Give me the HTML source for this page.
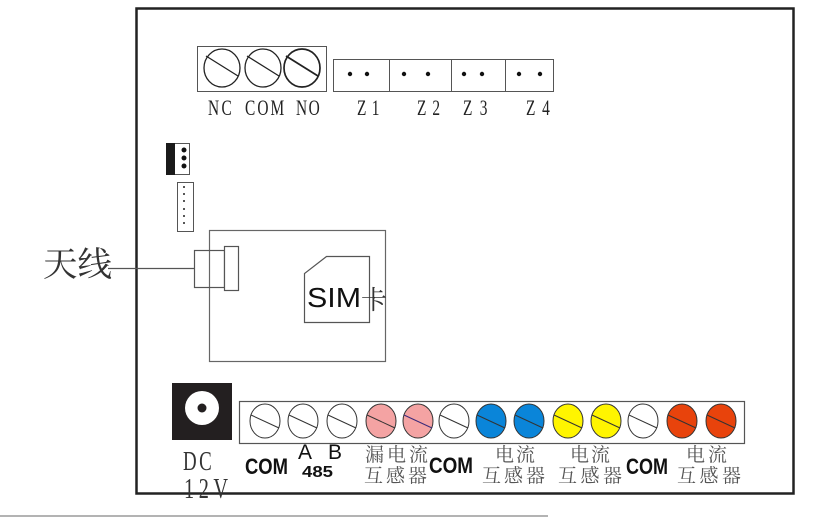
<!DOCTYPE html>
<html><head><meta charset="utf-8"><style>
html,body{margin:0;padding:0;background:#fff;}
svg{display:block;}
.serif{font-family:"Liberation Serif",serif;}
.sans{font-family:"Liberation Sans",sans-serif;}
.cjk{font-family:"Liberation Serif","Noto Serif CJK SC",serif;}
</style></head><body>
<svg width="819" height="518" viewBox="0 0 819 518" xmlns="http://www.w3.org/2000/svg">
<rect x="0" y="0" width="819" height="518" fill="#fff"/>
<!-- main box -->
<rect x="136.5" y="8.5" width="657" height="485" fill="none" stroke="#222" stroke-width="2.5"/>
<!-- bottom grey line -->
<line x1="0" y1="516" x2="548" y2="516" stroke="#9a9a9a" stroke-width="1.5"/>

<!-- relay terminal -->
<rect x="197.5" y="46.5" width="129" height="45" fill="#fff" stroke="#555" stroke-width="1"/>
<g fill="none" stroke="#222" stroke-width="1.3">
<ellipse cx="222" cy="68" rx="18" ry="19"/>
<line x1="206" y1="56" x2="238" y2="76"/>
<ellipse cx="263" cy="68" rx="18" ry="19"/>
<line x1="247" y1="56" x2="279" y2="76"/>
<ellipse cx="302" cy="68" rx="18" ry="19" stroke-width="1.7"/>
<line x1="286" y1="56" x2="318" y2="76" stroke-width="1.8"/>
</g>
<!-- Z terminals -->
<rect x="333.5" y="59.5" width="220" height="32" fill="#fff" stroke="#555" stroke-width="1"/>
<g stroke="#555" stroke-width="1">
<line x1="389.5" y1="59" x2="389.5" y2="92"/>
<line x1="451.5" y1="59" x2="451.5" y2="92"/>
<line x1="505.5" y1="59" x2="505.5" y2="92"/>
</g>
<g fill="#111">
<circle cx="350" cy="74" r="2.2"/><circle cx="367" cy="74" r="2.2"/>
<circle cx="404" cy="74" r="2.2"/><circle cx="428" cy="74" r="2.2"/>
<circle cx="464" cy="74" r="2.2"/><circle cx="482" cy="74" r="2.2"/>
<circle cx="519" cy="74" r="2.2"/><circle cx="540" cy="74" r="2.2"/>
</g>
<g class="serif" font-size="22" fill="#222">
<g transform="translate(208,115) scale(0.7,1)"><text x="0" y="0" textLength="34" lengthAdjust="spacing">NC</text></g>
<g transform="translate(245,115) scale(0.7,1)"><text x="0" y="0" textLength="56" lengthAdjust="spacing">COM</text></g>
<g transform="translate(296,115) scale(0.7,1)"><text x="0" y="0" textLength="34" lengthAdjust="spacing">NO</text></g>
<g transform="translate(357,115) scale(0.7,1)"><text x="0" y="0" textLength="32" lengthAdjust="spacing">Z1</text></g>
<g transform="translate(417,115) scale(0.7,1)"><text x="0" y="0" textLength="33" lengthAdjust="spacing">Z2</text></g>
<g transform="translate(463,115) scale(0.7,1)"><text x="0" y="0" textLength="35" lengthAdjust="spacing">Z3</text></g>
<g transform="translate(526,115) scale(0.7,1)"><text x="0" y="0" textLength="34" lengthAdjust="spacing">Z4</text></g>
</g>

<!-- connector 1 -->
<rect x="166.5" y="143.5" width="23" height="31" fill="#fff" stroke="#555" stroke-width="1"/>
<rect x="166" y="143" width="9" height="32" fill="#1a1a1a"/>
<g fill="#111"><circle cx="184" cy="150" r="2.5"/><circle cx="184" cy="158" r="2.5"/><circle cx="184" cy="166" r="2.5"/></g>
<!-- connector 2 -->
<rect x="177.5" y="182.5" width="16" height="49" fill="#fff" stroke="#555" stroke-width="1"/>
<g fill="#222"><circle cx="184" cy="187" r="1"/><circle cx="184" cy="194" r="1"/><circle cx="184" cy="201" r="1"/><circle cx="184" cy="209" r="1"/><circle cx="184" cy="216" r="1"/><circle cx="184" cy="223" r="1"/></g>

<!-- module -->
<rect x="209.5" y="230.5" width="176" height="131" fill="none" stroke="#666" stroke-width="1.2"/>
<rect x="194.5" y="250.5" width="30" height="37" fill="none" stroke="#555" stroke-width="1.2"/>
<rect x="224.5" y="246.5" width="14" height="44" fill="#fff" stroke="#555" stroke-width="1.2"/>
<line x1="108" y1="268.5" x2="194" y2="268.5" stroke="#555" stroke-width="1.3"/>
<text x="43" y="276" class="cjk" font-size="34" fill="#333" textLength="69" lengthAdjust="spacingAndGlyphs">天线</text>
<polygon points="326.5,256.5 369.5,256.5 369.5,322.5 304.5,322.5 304.5,273.5" fill="#fff" stroke="#555" stroke-width="1.2"/>
<text x="307" y="307" class="sans" font-size="28" fill="#111" textLength="54" lengthAdjust="spacingAndGlyphs">SIM</text>
<text x="361" y="309" class="cjk" font-size="26" fill="#333">卡</text>

<!-- DC jack -->
<rect x="172" y="383" width="60" height="57" fill="#231f20"/>
<circle cx="202" cy="408" r="17" fill="#fff"/>
<circle cx="202" cy="408" r="4.5" fill="#231f20"/>
<g class="serif" fill="#333">
<g transform="translate(183,470) scale(0.7,1)"><text x="0" y="0" font-size="27" textLength="41" lengthAdjust="spacing">DC</text></g>
<g transform="translate(184,498) scale(0.7,1)"><text x="0" y="0" font-size="29" textLength="63" lengthAdjust="spacing">12V</text></g>
</g>

<!-- terminal strip -->
<rect x="239.5" y="401.5" width="505" height="42" fill="#fff" stroke="#555" stroke-width="1.2"/>
<g stroke="#333" stroke-width="1">
<ellipse cx="265" cy="421" rx="15" ry="17" fill="#fff"/><line x1="251" y1="415" x2="279" y2="428"/>
<ellipse cx="303" cy="421" rx="15" ry="17" fill="#fff"/><line x1="289" y1="415" x2="317" y2="428"/>
<ellipse cx="342" cy="421" rx="15" ry="17" fill="#fff"/><line x1="328" y1="415" x2="356" y2="428"/>
<ellipse cx="381" cy="421" rx="15" ry="17" fill="#f4a3a3"/><line x1="367" y1="415" x2="395" y2="428"/>
<ellipse cx="418" cy="421" rx="15" ry="17" fill="#f4a3a3"/><line x1="404" y1="415" x2="432" y2="428" stroke="#3a2a7a"/>
<ellipse cx="454" cy="421" rx="15" ry="17" fill="#fff"/><line x1="440" y1="415" x2="468" y2="428"/>
<ellipse cx="491" cy="421" rx="15" ry="17" fill="#0a85d9"/><line x1="477" y1="415" x2="505" y2="428"/>
<ellipse cx="529" cy="421" rx="15" ry="17" fill="#0a85d9"/><line x1="515" y1="415" x2="543" y2="428"/>
<ellipse cx="568" cy="421" rx="15" ry="17" fill="#fff500"/><line x1="554" y1="415" x2="582" y2="428"/>
<ellipse cx="606" cy="421" rx="15" ry="17" fill="#fff500"/><line x1="592" y1="415" x2="620" y2="428"/>
<ellipse cx="643" cy="421" rx="15" ry="17" fill="#fff"/><line x1="629" y1="415" x2="657" y2="428"/>
<ellipse cx="682" cy="421" rx="15" ry="17" fill="#e8430c"/><line x1="668" y1="415" x2="696" y2="428"/>
<ellipse cx="721" cy="421" rx="15" ry="17" fill="#e8430c"/><line x1="707" y1="415" x2="735" y2="428"/>
</g>

<!-- bottom labels -->
<g class="sans" font-weight="bold" font-size="22" fill="#111">
<text x="245" y="474" textLength="43" lengthAdjust="spacingAndGlyphs">COM</text>
<text x="429" y="473" textLength="44" lengthAdjust="spacingAndGlyphs">COM</text>
<text x="626" y="474" textLength="42" lengthAdjust="spacingAndGlyphs">COM</text>
<text x="302" y="477" font-size="16" textLength="31" lengthAdjust="spacingAndGlyphs">485</text>
</g>
<g class="sans" font-size="21" fill="#111">
<text x="298" y="459">A</text>
<text x="328" y="459">B</text>
</g>
<g class="cjk" font-size="19" fill="#555">
<text x="365" y="461" textLength="63" lengthAdjust="spacing">漏电流</text>
<text x="364" y="482" textLength="63" lengthAdjust="spacing">互感器</text>
<text x="495" y="461" textLength="40" lengthAdjust="spacing">电流</text>
<text x="482" y="482" textLength="63" lengthAdjust="spacing">互感器</text>
<text x="570" y="461" textLength="40" lengthAdjust="spacing">电流</text>
<text x="558" y="482" textLength="64" lengthAdjust="spacing">互感器</text>
<text x="686" y="461" textLength="41" lengthAdjust="spacing">电流</text>
<text x="677" y="482" textLength="64" lengthAdjust="spacing">互感器</text>
</g>
</svg>
</body></html>
